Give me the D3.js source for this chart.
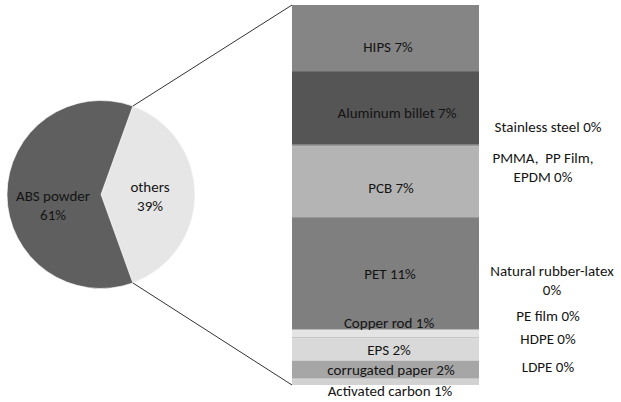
<!DOCTYPE html>
<html>
<head>
<meta charset="utf-8">
<script src="https://cdn.jsdelivr.net/npm/d3@7"></script>
<style>
  body { margin: 0; background: #fff; }
  text { font-family: Carlito, Lato, "Open Sans", sans-serif; font-size: 15px; fill: #141414; }
</style>
</head>
<body>
<div class="canvas"></div>
<script>
// pie data
const pieNames = ['others', 'ABS powder']
const pieValues = [39, 61]
const pieLabels = ['39%', '61%']

// breakdown of "others", top to bottom of the bar
const barNames = ['HIPS', 'Aluminum billet', 'Stainless steel', 'PMMA, PP Film, EPDM', 'PCB',
  'Natural rubber-latex', 'PET', 'PE film', 'Copper rod', 'HDPE', 'EPS', 'corrugated paper', 'LDPE', 'Activated carbon']
const barValues = [6.8, 7.5, 0.1, 0.1, 7.3, 0.05, 11.4, 0.1, 0.8, 0.1, 2.3, 1.85, 0.05, 0.6]
const barLabels = ['7%', '7%', '0%', '0%', '7%', '0%', '11%', '0%', '1%', '0%', '2%', '2%', '0%', '1%']

const barColors = ['#858585', '#555555', '#6f6f6f', '#8a8a8a', '#b4b4b4', '#9a9a9a', '#7f7f7f',
  '#3c3c3c', '#e4e4e4', '#b0b0b0', '#d9d9d9', '#a6a6a6', '#c8c8c8', '#d2d2d2']

const svg = d3.select('.canvas').append('svg')
    .attr('width', 621)
    .attr('height', 402)

// ---- pie ----
const cx = 101, cy = 194.5, r = 94
const pieGroup = svg.append('g').attr('transform', `translate(${cx}, ${cy})`)

// others slice centred on the right side
const othersAngle = 2 * Math.PI * pieValues[0] / d3.sum(pieValues)
const pie = d3.pie().sort(null)
    .startAngle(Math.PI / 2 - othersAngle / 2)
    .endAngle(Math.PI / 2 - othersAngle / 2 + 2 * Math.PI)
const arcs = pie(pieValues)
const arc = d3.arc().innerRadius(0).outerRadius(r)

pieGroup.selectAll('path')
    .data(arcs)
    .enter().append('path')
    .attr('d', arc)
    .attr('fill', (d, i) => i === 0 ? '#e6e6e6' : '#5f5f5f')
    .attr('stroke', '#ffffff')
    .attr('stroke-width', 0.6)

// pie labels
const pieLabelPos = [[49, 3], [-48, 12]]
pieGroup.selectAll('text.pl')
    .data(arcs)
    .enter().append('text')
    .attr('class', 'pl')
    .attr('text-anchor', 'middle')
    .attr('x', (d, i) => pieLabelPos[i][0])
    .attr('y', (d, i) => pieLabelPos[i][1] - 6)
    .each(function (d, i) {
      const t = d3.select(this)
      t.append('tspan').attr('x', pieLabelPos[i][0]).attr('dy', 0).text(pieNames[i])
      t.append('tspan').attr('x', pieLabelPos[i][0]).attr('dy', 19).text(pieLabels[i])
    })

// ---- bar ----
const x0 = 292, x1 = 479
const total = d3.sum(barValues)
const y = d3.scaleLinear().domain([0, total]).range([5, 385])
const cum = d3.cumsum(barValues)
const starts = barValues.map((v, i) => cum[i] - v)

svg.selectAll('rect.seg')
    .data(barValues)
    .enter().append('rect')
    .attr('class', 'seg')
    .attr('x', x0)
    .attr('width', x1 - x0)
    .attr('y', (d, i) => y(starts[i]))
    .attr('height', (d, i) => Math.max(1, y(cum[i]) - y(starts[i])))
    .attr('fill', (d, i) => barColors[i])

// connector lines from the others slice to the bar
const oa = arcs[0]
const pt = a => [cx + r * Math.sin(a), cy - r * Math.cos(a)]
const pTop = pt(oa.startAngle), pBot = pt(oa.endAngle)
svg.append('line')
    .attr('x1', pTop[0]).attr('y1', pTop[1])
    .attr('x2', x0).attr('y2', y(0))
    .attr('stroke', '#333').attr('stroke-width', 1)
svg.append('line')
    .attr('x1', pBot[0]).attr('y1', pBot[1])
    .attr('x2', x0).attr('y2', y(total))
    .attr('stroke', '#333').attr('stroke-width', 1)

// labels: inside the bar (centre x, y offset from the segment middle) or to the right
const inside = {
  'HIPS': [388, 9], 'Aluminum billet': [397, 5], 'PCB': [391, 6], 'PET': [390, 1],
  'Copper rod': [389, -11], 'EPS': [389, 0], 'corrugated paper': [391, 0], 'Activated carbon': [390, 9]
}
const outside = {
  'Stainless steel': [548, 127, ['Stainless steel 0%']],
  'PMMA, PP Film, EPDM': [543, 158, ['PMMA,\u00a0 PP Film,', 'EPDM 0%']],
  'Natural rubber-latex': [552, 271, ['Natural rubber-latex', '0%']],
  'PE film': [548, 316, ['PE film 0%']],
  'HDPE': [548, 339, ['HDPE 0%']],
  'LDPE': [548, 367, ['LDPE 0%']]
}

barNames.forEach((name, i) => {
  const mid = (y(starts[i]) + y(cum[i])) / 2
  if (inside[name]) {
    svg.append('text')
      .attr('x', inside[name][0])
      .attr('y', mid + inside[name][1])
      .attr('dy', '0.35em')
      .attr('text-anchor', 'middle')
      .text(name + ' ' + barLabels[i].replace(' ', ''))
  } else if (outside[name]) {
    const o = outside[name]
    const t = svg.append('text').attr('text-anchor', 'middle')
    o[2].forEach((line, k) => {
      t.append('tspan').attr('x', o[0]).attr('y', o[1] + k * 19).attr('dy', '0.35em').text(line)
    })
  }
})
</script>
</body>
</html>
